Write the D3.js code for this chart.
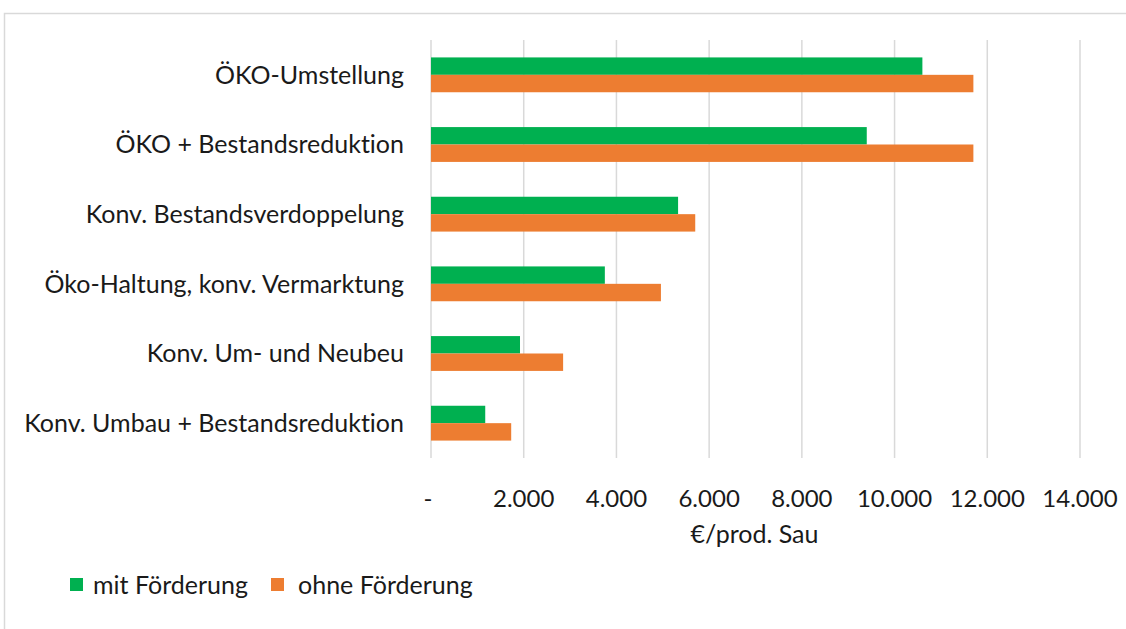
<!DOCTYPE html>
<html lang="de">
<head>
<meta charset="utf-8">
<title>€/prod. Sau</title>
<script src="https://d3js.org/d3.v7.min.js"></script>
<style>
  body { margin: 0; background: #fff; }
  text { font-family: Lato, "Open Sans", sans-serif; fill: #1a1a1a; font-variant-ligatures: none; }
</style>
</head>
<body>
<div id="chart"></div>
<script>
// Data
const categories = [
  "ÖKO-Umstellung",
  "ÖKO + Bestandsreduktion",
  "Konv. Bestandsverdoppelung",
  "Öko-Haltung, konv. Vermarktung",
  "Konv. Um- und Neubeu",
  "Konv. Umbau + Bestandsreduktion"
];
const seriesNames = ["mit Förderung", "ohne Förderung"];
const mitFoerderung = [10600, 9400, 5330, 3750, 1920, 1170];
const ohneFoerderung = [11700, 11700, 5700, 4960, 2850, 1730];
const xTicks = [0, 2000, 4000, 6000, 8000, 10000, 12000, 14000];
const colors = ["#00b050", "#ed7d31"];

const W = 1126, H = 629;
const plot = { left: 431, right: 1080, top: 40, bottom: 458 };
const fontSize = "25px";

const svg = d3.select("#chart").append("svg")
  .attr("width", W).attr("height", H);

// Outer frame
svg.append("rect")
  .attr("x", 4.5).attr("y", 13.5)
  .attr("width", W + 10).attr("height", H + 10)
  .attr("fill", "none").attr("stroke", "#d9d9d9").attr("stroke-width", 1.5);

// Scales
const x = d3.scaleLinear().domain([0, 14000]).range([plot.left, plot.right]);
const y = d3.scaleBand().domain(categories).range([plot.top, plot.bottom]).paddingInner(0.5).paddingOuter(0.25);
const ySub = d3.scaleBand().domain(seriesNames).range([0, y.bandwidth()]);

// Gridlines
svg.append("g")
  .selectAll("line")
  .data(xTicks)
  .join("line")
  .attr("x1", d => x(d)).attr("x2", d => x(d))
  .attr("y1", plot.top).attr("y2", plot.bottom)
  .attr("stroke", "#d9d9d9").attr("stroke-width", 1.5);

// Bars
const rows = categories.map((c, i) => ({ cat: c, values: [mitFoerderung[i], ohneFoerderung[i]] }));
const groups = svg.append("g").selectAll("g")
  .data(rows)
  .join("g")
  .attr("transform", d => `translate(0,${y(d.cat)})`);

groups.selectAll("rect")
  .data(d => d.values.map((v, j) => ({ key: seriesNames[j], value: v, j })))
  .join("rect")
  .attr("x", x(0))
  .attr("y", d => ySub(d.key))
  .attr("width", d => x(d.value) - x(0))
  .attr("height", ySub.bandwidth())
  .attr("fill", d => colors[d.j]);

// Category labels
svg.append("g")
  .selectAll("text")
  .data(categories)
  .join("text")
  .attr("x", 404)
  .attr("y", d => y(d) + y.bandwidth() / 2)
  .attr("dy", "0.35em")
  .attr("text-anchor", "end")
  .style("font-size", fontSize)
  .text(d => d);

// X axis labels
const fmt = d => d === 0 ? "-" : d3.format(",")(d).replace(/,/g, ".");
svg.append("g")
  .selectAll("text")
  .data(xTicks)
  .join("text")
  .attr("x", d => x(d) - (d === 0 ? 3 : 0))
  .attr("y", 507)
  .attr("text-anchor", "middle")
  .style("font-size", "24px")
  .text(fmt);

svg.append("text")
  .attr("x", (plot.left + plot.right) / 2 - 1)
  .attr("y", 543)
  .attr("text-anchor", "middle")
  .style("font-size", fontSize)
  .text("€/prod. Sau");

// Legend
const legendX = [70, 271];
const legend = svg.append("g").selectAll("g")
  .data(seriesNames)
  .join("g")
  .attr("transform", (d, i) => `translate(${legendX[i]},578)`);

legend.append("rect")
  .attr("width", 13).attr("height", 13)
  .attr("fill", (d, i) => colors[i]);

legend.append("text")
  .attr("x", (d, i) => i === 0 ? 23 : 27)
  .attr("y", 7)
  .attr("dy", "0.35em")
  .style("font-size", fontSize)
  .text(d => d);
</script>
</body>
</html>
